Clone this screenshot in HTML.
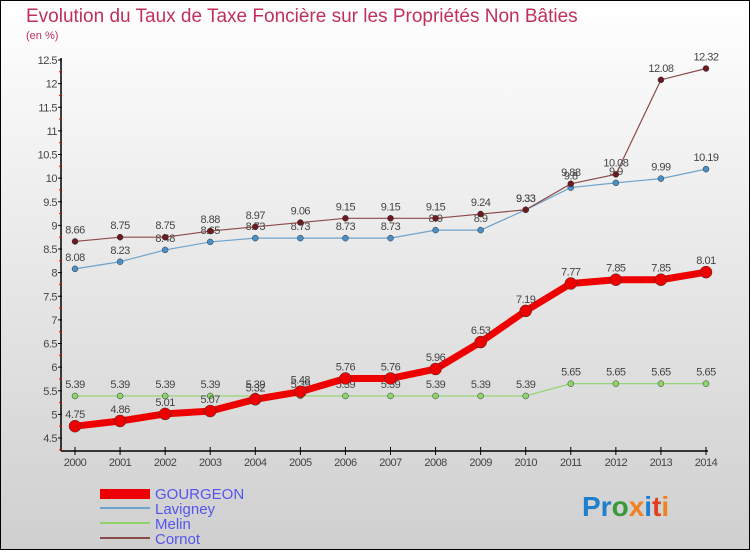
<!DOCTYPE html>
<html><head><meta charset="utf-8"><style>
html,body{margin:0;padding:0;}
body{width:750px;height:550px;overflow:hidden;font-family:"Liberation Sans",sans-serif;}
</style></head><body>
<svg id="chart" width="750" height="550" xmlns="http://www.w3.org/2000/svg">
<defs><linearGradient id="bg" x1="0" y1="0" x2="0" y2="1"><stop offset="0" stop-color="#ffffff"/><stop offset="1" stop-color="#cfcfcf"/></linearGradient></defs>
<rect x="0.5" y="0.5" width="749" height="549" fill="url(#bg)" stroke="#000"/>
<text x="26" y="22" font-size="19" fill="#c0305a">Evolution du Taux de Taxe Foncière sur les Propriétés Non Bâties</text>
<text x="26" y="39" font-size="11" fill="#c0305a">(en %)</text>
<g id="axes"></g><g id="series"></g>
<g>
<rect x="100" y="489" width="50" height="10" fill="#e00"/>
<text x="155" y="499" font-size="15" fill="#5555ee">GOURGEON</text>
<rect x="100" y="507" width="50" height="2" fill="#6ea3cc"/>
<text x="155" y="514" font-size="15" fill="#5555ee">Lavigney</text>
<rect x="100" y="522" width="50" height="2" fill="#8ed46a"/>
<text x="155" y="529" font-size="15" fill="#5555ee">Melin</text>
<rect x="100" y="537" width="50" height="2" fill="#8b4a4a"/>
<text x="155" y="544" font-size="15" fill="#5555ee">Cornot</text>
</g>
<text x="582" y="516" font-size="28" font-weight="bold"><tspan fill="#1e7fcf">Pr</tspan><tspan fill="#3a9a3a">o</tspan><tspan fill="#f08020">x</tspan><tspan fill="#1e7fcf">i</tspan><tspan fill="#e04020">t</tspan><tspan fill="#f08020">i</tspan></text>
</svg>
<script>
const years=[2000,2001,2002,2003,2004,2005,2006,2007,2008,2009,2010,2011,2012,2013,2014];
const yTicks=[4.5,5,5.5,6,6.5,7,7.5,8,8.5,9,9.5,10,10.5,11,11.5,12,12.5];
const gourgeon=[4.75,4.86,5.01,5.07,5.32,5.48,5.76,5.76,5.96,6.53,7.19,7.77,7.85,7.85,8.01];
const lavigney=[8.08,8.23,8.48,8.65,8.73,8.73,8.73,8.73,8.9,8.9,9.33,9.8,9.9,9.99,10.19];
const melin=[5.39,5.39,5.39,5.39,5.39,5.39,5.39,5.39,5.39,5.39,5.39,5.65,5.65,5.65,5.65];
const cornot=[8.66,8.75,8.75,8.88,8.97,9.06,9.15,9.15,9.15,9.24,9.33,9.88,10.08,12.08,12.32];
const NS="http://www.w3.org/2000/svg";
const xS=i=>75+i*(706-75)/14;
const yS=v=>438-(v-4.5)*(438-60)/8;
function el(t,a,p){const e=document.createElementNS(NS,t);for(const k in a)e.setAttribute(k,a[k]);p.appendChild(e);return e;}
const ax=document.getElementById('axes');
const yl=el('line',{x1:61,y1:58,x2:61,y2:451,stroke:'#000','stroke-width':1.5},ax);


const xl=el('line',{x1:61,y1:451,x2:708,y2:451,stroke:'#000','stroke-width':1.5},ax);


yTicks.forEach(v=>{const y=yS(v);
el('line',{x1:58,y1:y,x2:62,y2:y,stroke:'#000'},ax);
el('line',{x1:59,y1:y+11.8,x2:62,y2:y+11.8,stroke:'#e00'},ax);
const t=el('text',{x:57,y:y+4,'font-size':11,fill:'#444','text-anchor':'end','letter-spacing':'-0.5'},ax);


t.textContent=v;});
years.forEach((yr,i)=>{const x=xS(i);
el('line',{x1:x,y1:447,x2:x,y2:455,stroke:'#000'},ax);
const t=el('text',{x:x,y:466,'font-size':11,fill:'#444','text-anchor':'middle','letter-spacing':'-0.5'},ax);


t.textContent=yr;});
const sg=document.getElementById('series');
function draw(name,vals,color,w,r,dot){
const g=el('g',{},sg);


const p=el('polyline',{points:vals.map((v,i)=>xS(i)+','+yS(v)).join(' '),fill:'none',stroke:color,'stroke-width':w},g);


vals.forEach((v,i)=>{const c=el('circle',{cx:xS(i),cy:yS(v),r:r,fill:dot,stroke:'#333','stroke-width':0.5},g);


const t=el('text',{x:xS(i),y:yS(v)-8,'font-size':11,fill:'#444','text-anchor':'middle','letter-spacing':'-0.5'},g);


t.textContent=v;});}
draw('melin',melin,'#8ed46a',1.2,3,'#8ed46a');
draw('lavigney',lavigney,'#6ea3cc',1.2,3,'#4a8fc8');
draw('cornot',cornot,'#8b4a4a',1.2,3,'#6a1a20');
draw('gourgeon',gourgeon,'#e00',7,6,'#e00');
</script>
</body></html>
